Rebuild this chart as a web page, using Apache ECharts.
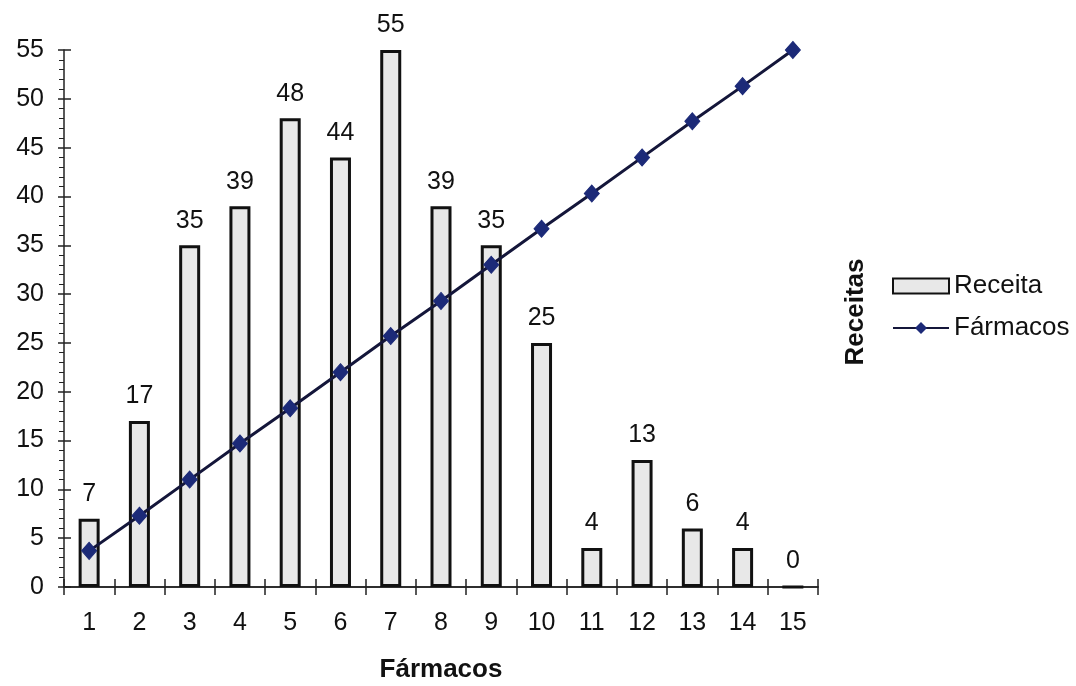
<!DOCTYPE html>
<html>
<head>
<meta charset="utf-8">
<script src="https://cdn.jsdelivr.net/npm/echarts@6/dist/echarts.min.js"></script>
<style>
  html, body { margin: 0; padding: 0; background: #ffffff; }
  #chart { width: 1076px; height: 686px; }
</style>
</head>
<body>
<div id="chart"></div>
<script>
// Number of drugs per prescription (categories 1..15)
const categories = ['1','2','3','4','5','6','7','8','9','10','11','12','13','14','15'];
// Prescriptions count for each category
const receita = [7, 17, 35, 39, 48, 44, 55, 39, 35, 25, 4, 13, 6, 4, 0];
// Reference line values
const farmacos = [3.7, 7.3, 11, 14.7, 18.3, 22, 25.7, 29.3, 33, 36.7, 40.3, 44, 47.7, 51.3, 55];

const FONT = 'Liberation Sans, Arial, sans-serif';
const chart = echarts.init(document.getElementById('chart'), null, { renderer: 'canvas' });

const baseX = {
  type: 'category',
  data: categories,
  boundaryGap: true,
  axisLine: { lineStyle: { color: '#222', width: 1.5 } },
  splitLine: { show: false }
};

chart.setOption({
  animation: false,
  backgroundColor: '#ffffff',
  textStyle: { fontFamily: FONT },
  grid: { left: 64, right: 258, top: 50, bottom: 99, containLabel: false, outerBoundsMode: 'none' },
  legend: {
    orient: 'vertical',
    left: 887,
    top: 268,
    itemWidth: 56,
    itemHeight: 15,
    itemGap: 16,
    textStyle: { fontFamily: FONT, fontSize: 26, color: '#111' },
    data: [
      { name: 'Receita', icon: 'rect' },
      { name: 'Fármacos' }
    ]
  },
  xAxis: [
    Object.assign({}, baseX, {
      axisTick: { show: true, inside: false, length: 8, lineStyle: { color: '#222', width: 1.5 } },
      axisLabel: { fontFamily: FONT, fontSize: 25, color: '#111', margin: 24 },
      name: 'Fármacos',
      nameLocation: 'middle',
      nameGap: 70,
      nameTextStyle: { fontFamily: FONT, fontSize: 26, fontWeight: 'bold', color: '#111' }
    }),
    Object.assign({}, baseX, {
      position: 'bottom',
      axisTick: { show: true, inside: true, length: 8, lineStyle: { color: '#222', width: 1.5 } },
      axisLabel: { show: false }
    })
  ],
  yAxis: [
    {
      type: 'value',
      min: 0, max: 55, interval: 5,
      axisLine: { show: true, lineStyle: { color: '#222', width: 1.5 } },
      axisTick: { show: true, length: 6, lineStyle: { color: '#222', width: 1.5 } },
      minorTick: { show: true, splitNumber: 5, length: 5, lineStyle: { color: '#222', width: 1 } },
      axisLabel: { fontFamily: FONT, fontSize: 25, color: '#111', margin: 20 },
      splitLine: { show: false }
    },
    {
      type: 'value',
      min: 0, max: 55, interval: 5,
      position: 'left',
      axisLine: { show: false },
      axisTick: { show: true, inside: true, length: 7, lineStyle: { color: '#222', width: 1.5 } },
      axisLabel: { show: false },
      splitLine: { show: false }
    }
  ],
  graphic: [
    {
      type: 'text',
      x: 856,
      y: 312,
      rotation: Math.PI / 2,
      style: {
        text: 'Receitas',
        font: 'bold 26px ' + FONT,
        fill: '#111',
        align: 'center',
        verticalAlign: 'middle'
      }
    }
  ],
  series: [
    {
      name: 'Receita',
      type: 'bar',
      data: receita,
      barWidth: 21,
      itemStyle: { color: '#e8e8e8', borderColor: '#111', borderWidth: 3 },
      label: {
        show: true,
        position: 'top',
        distance: 12,
        fontFamily: FONT,
        fontSize: 25,
        color: '#111'
      }
    },
    {
      name: 'Fármacos',
      type: 'line',
      data: farmacos,
      symbol: 'diamond',
      symbolSize: [15, 17],
      lineStyle: { color: '#14163a', width: 3 },
      itemStyle: { color: '#1c2a78', borderColor: '#1c2a78' },
      z: 5
    }
  ]
});
</script>
</body>
</html>
